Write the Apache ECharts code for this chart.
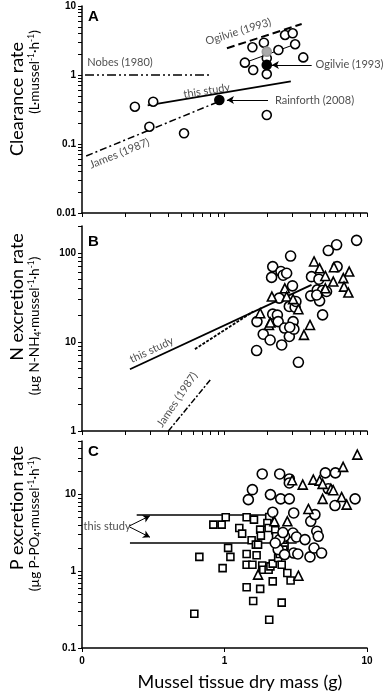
<!DOCTYPE html>
<html>
<head>
<meta charset="utf-8">
<script src="https://cdn.jsdelivr.net/npm/echarts@6/dist/echarts.min.js"></script>
<style>
  html, body { margin: 0; padding: 0; background: #fff; }
  #chart { width: 387px; height: 698px; }
</style>
</head>
<body>
<div id="chart"></div>
<script>
// ---- panel A: clearance rate ----
var aOpen = [[0.235,0.347],[0.316,0.41],[0.297,0.178],[0.52,0.143],[1.98,0.263],
  [1.39,1.51],[1.59,1.18],[1.57,2.52],[1.89,2.94],[1.98,1.75],[1.98,1.03],
  [2.39,2.30],[2.66,3.8],[3.01,4.02],[3.13,2.79],[3.57,1.80]];
var aGrey = [[1.98,2.18]];
var aBlack = [[0.92,0.434],[1.98,1.40]];
var aNobes = [[0.105,1],[0.81,1]];
var aThisStudy = [[0.289,0.364],[2.92,0.81]];
var aJames = [[0.107,0.067],[0.88,0.40]];
var aOgilvieDash = [[1.04,2.44],[3.48,5.48]];
var aOgilvieFit = [[1.39,1.51],[3.13,2.79]];
// [x, y, text, rotate]
var aLabels = [[0.185,1.54,'Nobes (1980)',0],[0.75,0.59,'this study',9],
  [0.183,0.073,'James (1987)',22],[1.25,4.24,'Ogilvie (1993)',17],
  [7.54,1.40,'Ogilvie (1993)',0],[4.28,0.434,'Rainforth (2008)',0]];
var aArrows = [[[4.09,1.40],[2.15,1.40]],[[2.02,0.434],[1.04,0.434]]];

// ---- panel B: N excretion ----
var bCircle = [[1.68,8.0],[1.69,16.9],[1.87,12.2],[2.18,70],[2.14,53],[2.09,10.5],
  [2.18,20.5],[2.35,20],[2.38,16.9],[2.49,61.6],[2.58,56],[2.52,9.25],[2.42,31],
  [2.64,14.3],[2.73,59],[2.91,92],[2.85,25],[2.85,11.5],[3.0,42.6],[3.03,16.9],
  [3.07,13.9],[2.87,14.6],[3.13,24.5],[3.17,28.4],[3.3,5.9],[4.03,32.9],[4.08,54],
  [4.48,38.4],[4.6,50.6],[4.65,28.9],[4.88,20.1],[4.88,37.8],[4.44,33.6],[5.2,36.8],
  [5.35,106],[6.12,123],[6.17,70],[8.45,138]];
var bTriangle = [[1.78,21],[2.15,32.3],[2.05,15.5],[2.1,16.5],[2.65,40],[2.73,32.3],
  [3.03,30.2],[3.3,23.3],[3.61,12],[3.98,15.5],[4.25,80],[4.65,67],[5.1,55],[5.1,40],
  [5.8,47.6],[5.86,69],[6.82,52],[6.9,41.7],[7.4,35.8],[7.5,61.6]];
var bThisStudy = [[0.217,4.93],[4.08,43.7]];
var bOther = [[0.62,8.3],[1.59,21.9]];
var bJames = [[0.404,1.0],[0.80,3.8]];
var bLabels = [[0.308,8.13,'this study',25],[0.465,2.25,'James (1987)',56]];

// ---- panel C: P excretion ----
var cSquare = [[0.614,0.28],[0.835,4.06],[0.955,4.06],[1.02,5.06],[0.666,1.54],
  [0.97,1.10],[1.06,2.02],[1.1,1.54],[1.27,3.67],[1.33,3.1],[1.43,5.06],[1.43,1.68],
  [1.43,1.22],[1.43,0.62],[1.55,2.54],[1.57,1.22],[1.59,0.41],[1.66,2.23],[1.68,1.62],
  [1.61,4.72],[1.72,2.23],[1.78,0.59],[1.78,3.5],[1.8,2.92],[1.84,1.19],[1.87,1.05],
  [2.06,5.1],[2.0,4.27],[2.04,3.67],[2.04,1.05],[2.06,0.234],[2.1,1.16],[2.18,0.74],
  [2.18,1.26],[2.27,3.43],[2.3,2.86],[2.3,2.34],[2.38,1.49],[2.44,1.68],[2.52,0.39],
  [2.52,1.22],[2.76,0.95],[2.91,0.76],[2.64,2.16],[2.59,2.59],[2.59,1.92]];
var cCircle = [[1.47,8.6],[1.57,11.6],[1.84,18.6],[2.1,10],[2.18,5.9],[2.44,18.6],
  [2.48,8.8],[2.85,16],[2.85,14.2],[2.85,8.8],[3.06,5.77],[3.02,3.16],[3.2,2.8],
  [3.06,1.73],[3.27,1.68],[2.64,2.86],[2.44,2.6],[2.57,3.2],[2.38,1.92],[2.64,1.65],
  [3.67,2.59],[3.98,1.54],[4.03,4.49],[4.31,5.49],[4.25,2.01],[4.44,3.33],[4.55,2.86],
  [4.8,1.73],[5.1,19.2],[5.35,11.9],[5.96,7.2],[6.0,19.2],[8.25,8.8],[2.27,2.34]];
var cTriangle = [[1.72,0.905],[3.3,0.877],[2.24,4.49],[2.76,4.49],[2.98,15.4],
  [3.54,13.5],[3.88,6.5],[4.2,15.7],[4.65,15.2],[4.88,13.8],[4.88,8.8],[5.58,11.9],
  [5.8,11.4],[6.64,9.3],[6.8,23],[7.2,7.4],[8.55,33.2]];
var cUpper = [[0.242,5.43],[1.98,5.43]];
var cLower = [[0.217,2.34],[3.21,2.34]];
var cLabels = [[0.15,3.84,'this study',0]];
var cArrows = [[[0.215,3.9],[0.30,5.3]],[[0.215,3.8],[0.30,2.78]]];

// tick lists
var xMajor = [0.1, 1, 10];
var aYMajor = [0.01, 0.1, 1, 10];
var bYMajor = [1, 10, 100];
var cYMajor = [0.1, 1, 10];

function logTicks(lo, hi) {
  var out = [];
  for (var d = lo; d < hi * 0.999; d *= 10) {
    for (var k = 1; k < 10; k++) {
      var v = +(k * d).toPrecision(3);
      if (v <= hi * 1.0001) out.push(v);
    }
  }
  out.push(hi);
  return out;
}

var FONT = 'Lato';
var axisLine = { lineStyle: { color: '#000', width: 1.5 } };

function xAxis(idx, labels, minor) {
  return {
    type: 'log', logBase: 10, min: 0.1, max: 10, gridIndex: idx,
    axisLine: axisLine,
    axisTick: { show: true, length: 4, lineStyle: { color: '#000', width: 1 },
      customValues: minor ? logTicks(0.1, 10) : xMajor },
    axisLabel: { show: labels, customValues: xMajor, margin: 8,
      fontFamily: 'Liberation Sans', fontWeight: 'bold', fontSize: 10, color: '#000',
      formatter: function (v) { return v < 1 ? '0' : String(v); } },
    splitLine: { show: false }
  };
}
function yAxis(idx, lo, hi, major) {
  return {
    type: 'log', logBase: 10, min: lo, max: hi, gridIndex: idx,
    axisLine: axisLine,
    axisTick: { show: true, length: 4, lineStyle: { color: '#000', width: 1 },
      customValues: logTicks(lo, hi) },
    axisLabel: { customValues: major, margin: 6,
      fontFamily: 'Liberation Sans', fontWeight: 'bold', fontSize: 10, color: '#000',
      formatter: function (v) { return String(v); } },
    splitLine: { show: false }
  };
}

function pts(idx, data, symbol, size, fill, border) {
  return { type: 'scatter', xAxisIndex: idx, yAxisIndex: idx, data: data,
    symbol: symbol, symbolSize: size, z: 5,
    itemStyle: { color: fill, borderColor: border || '#000', borderWidth: 1.6, opacity: 1 } };
}
function seg(idx, data, width, type) {
  return { type: 'line', xAxisIndex: idx, yAxisIndex: idx, data: data, symbol: 'none',
    z: 3, silent: true, lineStyle: { color: '#000', width: width, type: type || 'solid' } };
}
function labels(idx, items) {
  return { type: 'scatter', xAxisIndex: idx, yAxisIndex: idx, symbolSize: 0, clip: false, z: 6,
    data: items.map(function (d) {
      return { value: [d[0], d[1]], name: d[2], label: { rotate: d[3] } };
    }),
    label: { show: true, position: 'inside', formatter: '{b}', color: '#222',
      fontFamily: FONT, fontSize: 11 } };
}
function arrows(idx, list) {
  return { type: 'line', xAxisIndex: idx, yAxisIndex: idx, data: [], symbol: 'none',
    markLine: { silent: true, symbol: ['none', 'arrow'], symbolSize: [6, 7],
      label: { show: false }, lineStyle: { color: '#000', width: 1, type: 'solid' },
      data: list.map(function (a) { return [{ coord: a[0] }, { coord: a[1] }]; }) } };
}

var sub = { fontFamily: FONT, fontSize: 13.5, color: '#000' };
var rich = {
  s: sub,
  sup: { fontFamily: FONT, fontSize: 8.5, color: '#000', padding: [0, 0, 8, 0] },
  sb: { fontFamily: FONT, fontSize: 8.5, color: '#000', padding: [7, 0, 0, 0] }
};
function vtext(x, y, text, size, r) {
  return { type: 'text', x: x, y: y, rotation: Math.PI / 2,
    style: { text: text, rich: r, fontFamily: FONT, fontSize: size, fill: '#000',
      align: 'center', verticalAlign: 'middle' } };
}
function letter(x, y, t) {
  return { type: 'text', x: x, y: y,
    style: { text: t, fontFamily: 'Liberation Sans', fontWeight: 'bold', fontSize: 15, fill: '#000' } };
}

var option = {
  animation: false,
  backgroundColor: '#fff',
  grid: [
    { left: 82, top: 6, width: 285, height: 207 },
    { left: 82, top: 226, width: 285, height: 205 },
    { left: 82, top: 441, width: 285, height: 207 }
  ],
  xAxis: [xAxis(0, false, true), xAxis(1, false, true), xAxis(2, true, false)],
  yAxis: [yAxis(0, 0.01, 10, aYMajor), yAxis(1, 1, 200, bYMajor), yAxis(2, 0.1, 50, cYMajor)],
  graphic: [
    vtext(17, 99, 'Clearance rate', 18),
    vtext(35, 72, '{s|(L·mussel}{sup|-1}{s|·h}{sup|-1}{s|)}', 13, rich),
    vtext(17, 297, 'N excretion rate', 18),
    vtext(35, 326, '{s|(µg N-NH}{sb|4}{s|·mussel}{sup|-1}{s|·h}{sup|-1}{s|)}', 13, rich),
    vtext(17, 508, 'P excretion rate', 18),
    vtext(35, 524, '{s|(µg P-PO}{sb|4}{s|·mussel}{sup|-1}{s|·h}{sup|-1}{s|)}', 13, rich),
    { type: 'text', x: 240, y: 682,
      style: { text: 'Mussel tissue dry mass (g)', fontFamily: FONT, fontSize: 18, fill: '#000',
        align: 'center', verticalAlign: 'middle' } },
    letter(88, 9, 'A'), letter(88, 234, 'B'), letter(88, 444, 'C')
  ],
  series: [
    seg(0, aNobes, 1.5, [9, 3, 2, 3, 2, 3]),
    seg(0, aThisStudy, 1.8),
    seg(0, aJames, 1.5, [7, 3, 2, 3]),
    seg(0, aOgilvieDash, 2, [8, 4]),
    seg(0, aOgilvieFit, 1),
    pts(0, aOpen, 'circle', 9, '#fff'),
    pts(0, aGrey, 'circle', 9, '#aaa', '#999'),
    pts(0, aBlack, 'circle', 9, '#000'),
    labels(0, aLabels),
    arrows(0, aArrows),

    seg(1, bThisStudy, 1.8),
    seg(1, bOther, 1.8, [3, 1.5]),
    seg(1, bJames, 1.5, [6, 2, 2, 2]),
    pts(1, bCircle, 'circle', 10, '#fff'),
    pts(1, bTriangle, 'triangle', 9, '#fff'),
    labels(1, bLabels),

    seg(2, cUpper, 1.5),
    seg(2, cLower, 1.5),
    pts(2, cSquare, 'rect', 7, '#fff'),
    pts(2, cCircle, 'circle', 10, '#fff'),
    pts(2, cTriangle, 'triangle', 9, '#fff'),
    labels(2, cLabels),
    arrows(2, cArrows)
  ]
};

var chart = echarts.init(document.getElementById('chart'), null, { renderer: 'canvas' });
chart.setOption(option);
</script>
</body>
</html>
